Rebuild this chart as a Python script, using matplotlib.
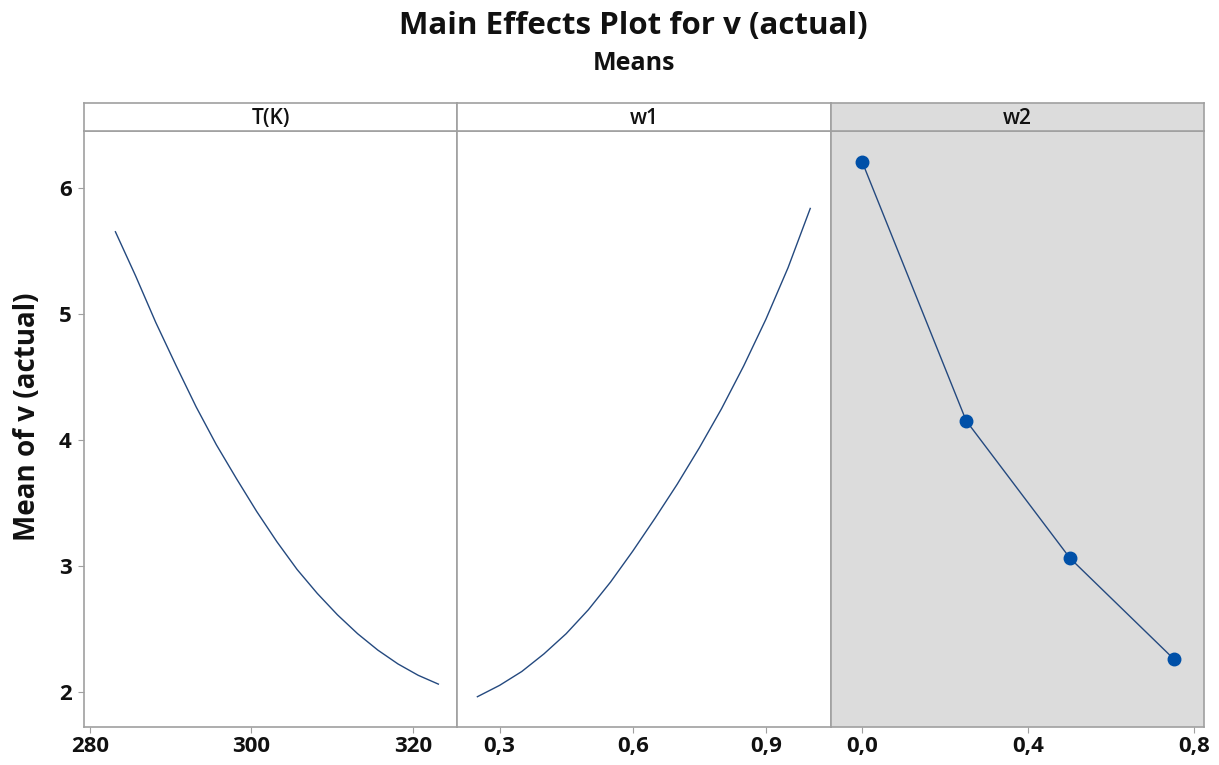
import matplotlib
matplotlib.use("Agg")
import matplotlib.pyplot as plt
from matplotlib.ticker import FuncFormatter

# Dados
t_k = [283.15, 285.65, 288.15, 290.65, 293.15, 295.65, 298.15, 300.65, 303.15,
       305.65, 308.15, 310.65, 313.15, 315.65, 318.15, 320.65, 323.15]
v_t = [5.65, 5.30, 4.93, 4.59, 4.26, 3.96, 3.69, 3.43, 3.19,
       2.97, 2.78, 2.61, 2.46, 2.33, 2.22, 2.13, 2.06]

w1 = [0.25, 0.30, 0.35, 0.40, 0.45, 0.50, 0.55, 0.60, 0.65, 0.70,
      0.75, 0.80, 0.85, 0.90, 0.95, 1.00]
v_w1 = [1.96, 2.05, 2.16, 2.30, 2.46, 2.65, 2.87, 3.115, 3.375, 3.645,
        3.935, 4.245, 4.585, 4.955, 5.365, 5.835]

w2 = [0.0, 0.25, 0.50, 0.75]
v_w2 = [6.20, 4.15, 3.06, 2.26]

panel_names = ['T(K)', 'w1', 'w2']
panel_xlims = [(279.26, 325.5), (0.2048, 1.046), (-0.0765, 0.823)]
panel_xticks = [[280, 300, 320], [0.3, 0.6, 0.9], [0.0, 0.4, 0.8]]
y_ticks = [2, 3, 4, 5, 6]
y_lim = (1.722, 6.452)

plt.rcParams['font.family'] = ['Open Sans', 'DejaVu Sans']
line_color = '#24497f'
marker_color = '#0050a8'
spine_color = '#a0a0a0'
text_color = '#111111'

fig = plt.figure(figsize=(12.19, 7.65), dpi=100)

left, right = 84 / 1219, 1204 / 1219
bottom, top = 1 - 726.7 / 765, 1 - 130.7 / 765
strip_h = 27.4 / 765
w = (right - left) / 3


def fmt_comma(dec):
    return FuncFormatter(lambda x, pos: f'{x:.{dec}f}'.replace('.', ','))


axes = []
for i in range(3):
    ax = fig.add_axes([left + i * w, bottom, w, top - bottom])
    strip = fig.add_axes([left + i * w, top, w, strip_h])
    bg = '#dcdcdc' if i == 2 else 'white'
    ax.set_facecolor(bg)
    strip.set_facecolor(bg)
    strip.set_xticks([])
    strip.set_yticks([])
    strip.text(0.5, 0.45, panel_names[i], ha='center', va='center',
               fontsize=15, fontweight='semibold', color=text_color,
               transform=strip.transAxes)
    for a in (ax, strip):
        for s in a.spines.values():
            s.set_color(spine_color)
            s.set_linewidth(1.2)

    ax.set_xlim(panel_xlims[i])
    ax.set_ylim(y_lim)
    ax.set_xticks(panel_xticks[i])
    if i > 0:
        ax.xaxis.set_major_formatter(fmt_comma(1))
    ax.tick_params(axis='x', length=4, color=spine_color, labelsize=16,
                   labelcolor=text_color, pad=3)
    if i == 0:
        ax.set_yticks(y_ticks)
        ax.tick_params(axis='y', length=4, color=spine_color, labelsize=16,
                       labelcolor=text_color, pad=5)
    else:
        ax.set_yticks([])
    for lab in ax.get_xticklabels() + ax.get_yticklabels():
        lab.set_fontweight('bold')
    axes.append(ax)

axes[0].plot(t_k, v_t, color=line_color, lw=1.0)
axes[1].plot(w1, v_w1, color=line_color, lw=1.0)
axes[2].plot(w2, v_w2, color=line_color, lw=1.0, marker='o',
             markersize=9, markerfacecolor=marker_color,
             markeredgecolor=marker_color)

# Rótulo do eixo y centrado no painel inteiro (incluindo a faixa)
fig.text(28 / 1219, 1 - 417 / 765, 'Mean of v (actual)', rotation=90,
         ha='center', va='center', fontsize=20, fontweight='bold',
         color=text_color)

fig.text(633 / 1219, 1 - 26 / 765, 'Main Effects Plot for v (actual)',
         ha='center', va='center', fontsize=22.5, fontweight='bold',
         color=text_color)
fig.text(634 / 1219, 1 - 63 / 765, 'Means', ha='center', va='center',
         fontsize=18, fontweight='bold', color=text_color)

fig.savefig('out.png', dpi=100)
